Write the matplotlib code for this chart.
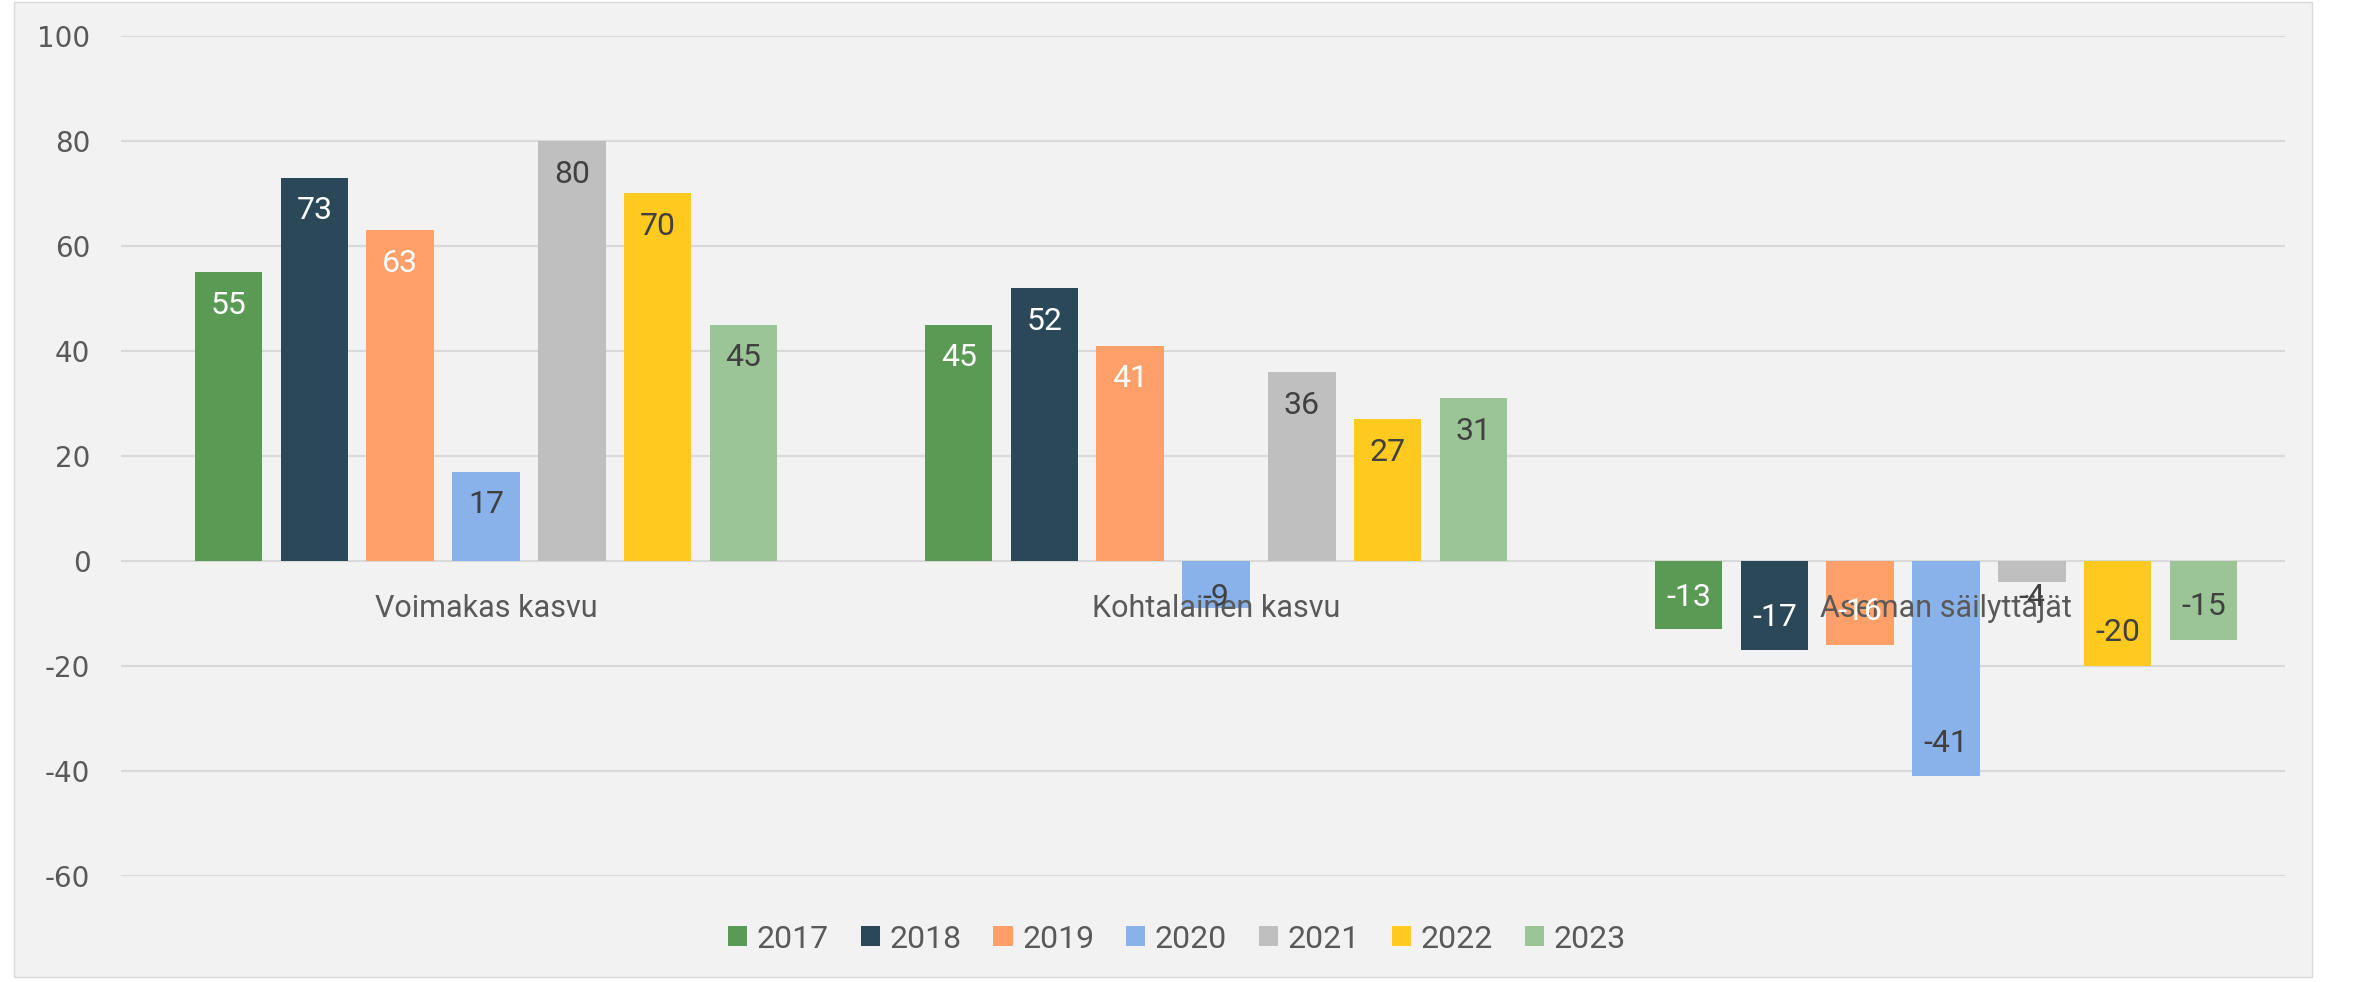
import matplotlib.pyplot as plt
import numpy as np
from matplotlib.patches import Rectangle

categories = ["Voimakas kasvu", "Kohtalainen kasvu", "Aseman säilyttäjät"]
years = ["2017", "2018", "2019", "2020", "2021", "2022", "2023"]
values = {
    "2017": [55, 45, -13],
    "2018": [73, 52, -17],
    "2019": [63, 41, -16],
    "2020": [17, -9, -41],
    "2021": [80, 36, -4],
    "2022": [70, 27, -20],
    "2023": [45, 31, -15],
}
colors = ["#5a9a55", "#2b4858", "#ff9f6a", "#8ab2ea", "#bfbfbf", "#ffca20", "#9bc597"]
label_colors = ["white", "white", "white", "#404040", "#404040", "#404040", "#404040"]

TEXT = "#595959"
FONT = ["Roboto", "DejaVu Sans"]
plt.rcParams["axes.unicode_minus"] = False

fig = plt.figure(figsize=(23.54, 9.82), dpi=100, facecolor="white")
fig.patches.append(Rectangle((14 / 2354, 0.005), (2312 - 14) / 2354, 0.993,
                             transform=fig.transFigure, facecolor="#f2f2f2",
                             edgecolor="#d9d9d9", lw=1, zorder=-1))
ax = fig.add_axes([121 / 2354, 1 - 876 / 982, (2285 - 121) / 2354, (876 - 36) / 982])
ax.set_facecolor("#f2f2f2")

x = np.arange(len(categories))
step = 0.1175
width = 0.0925
for i, yr in enumerate(years):
    pos = x + (i - 3) * step
    ax.bar(pos, values[yr], width, color=colors[i], label=yr, zorder=3)
    for px, v in zip(pos, values[yr]):
        s = 1 if v > 0 else -1
        ly = s * max(abs(v) - 6.3, 7)
        ax.text(px, ly, str(v), ha="center", va="center", color=label_colors[i],
                fontsize=23, family=FONT, zorder=5)

for xi, cat in zip(x, categories):
    ax.text(xi, -9, cat, ha="center", va="center", color=TEXT,
            fontsize=22, family=FONT, zorder=4)

# category width is 730 px, the plot area stops a bit short of the third one
ax.set_xlim(-0.5, -0.5 + 2164 / 730)
ax.set_ylim(-60, 100)
ax.set_yticks(range(-60, 101, 20))
ax.set_xticks([])
ax.yaxis.grid(True, color="#d9d9d9", lw=1.5, zorder=0)
ax.tick_params(axis="y", length=0, pad=22, labelsize=20, labelcolor=TEXT)
for lbl in ax.get_yticklabels():
    lbl.set_family("DejaVu Sans")
for sp in ax.spines.values():
    sp.set_visible(False)

leg = fig.legend(loc="center", bbox_to_anchor=(0.5, 1 - 939 / 982), ncol=7,
                 frameon=False, prop={"family": FONT, "size": 23},
                 handlelength=0.6, handleheight=0.6, handletextpad=0.3,
                 columnspacing=1.0)
for t in leg.get_texts():
    t.set_color(TEXT)

fig.savefig("out.png", dpi=100, facecolor=fig.get_facecolor())
